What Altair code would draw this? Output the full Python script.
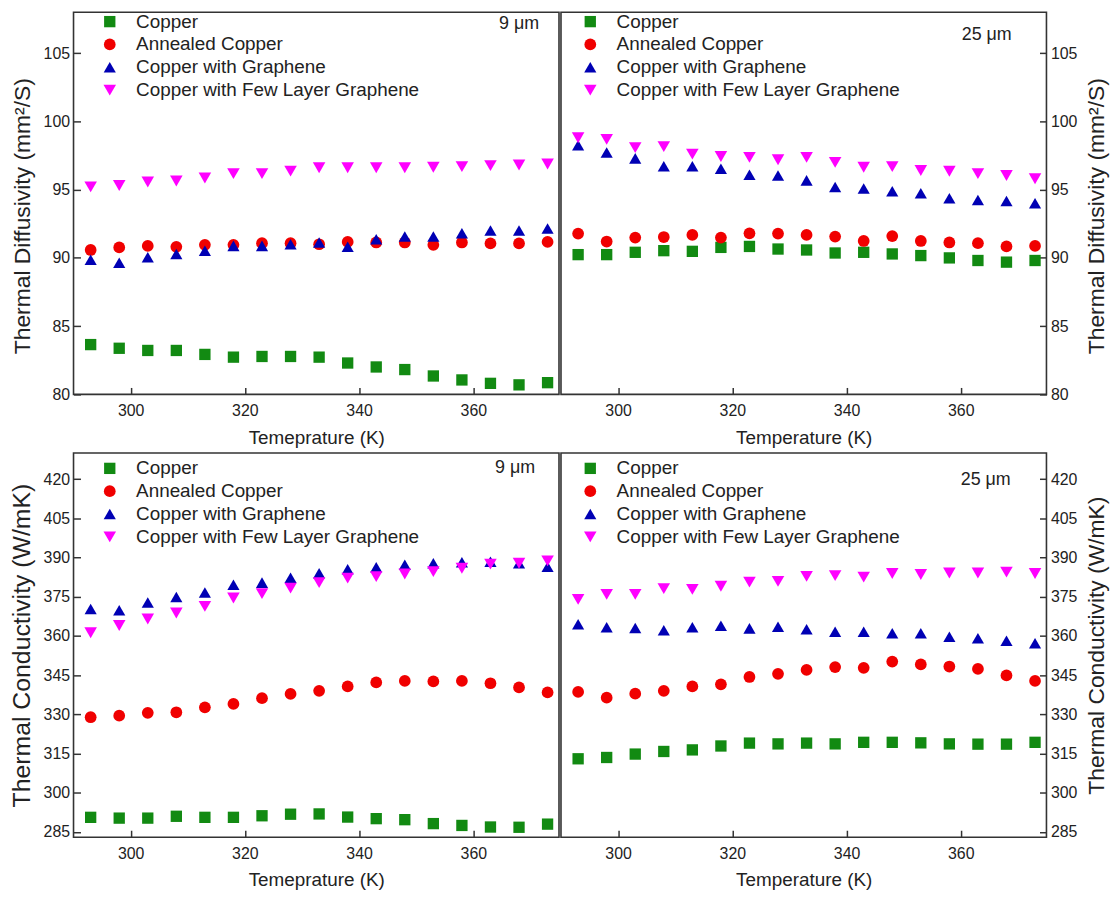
import altair as alt
import pandas as pd

FONT = "Liberation Sans"

temps = [293, 298, 303, 308, 313, 318, 323, 328, 333, 338, 343, 348, 353, 358, 363, 368, 373]
series_names = ["Copper", "Annealed Copper", "Copper with Graphene", "Copper with Few Layer Graphene"]

# Thermal diffusivity, 9 um
td9_copper = [83.65, 83.38, 83.22, 83.22, 82.93, 82.73, 82.78, 82.78, 82.73, 82.30, 82.01, 81.82, 81.35, 81.06, 80.81, 80.70, 80.86]
td9_annealed = [90.58, 90.77, 90.88, 90.81, 90.96, 90.96, 91.08, 91.08, 91.00, 91.17, 91.13, 91.13, 90.96, 91.13, 91.06, 91.06, 91.17]
td9_graphene = [89.86, 89.64, 90.05, 90.29, 90.53, 90.88, 90.88, 91.00, 91.13, 90.81, 91.37, 91.56, 91.56, 91.80, 92.01, 92.01, 92.15]
td9_flg = [95.20, 95.30, 95.56, 95.63, 95.85, 96.17, 96.17, 96.36, 96.60, 96.60, 96.60, 96.60, 96.64, 96.69, 96.76, 96.81, 96.88]

# Thermal diffusivity, 25 um
td25_copper = [90.24, 90.24, 90.41, 90.53, 90.48, 90.77, 90.84, 90.65, 90.58, 90.36, 90.41, 90.29, 90.17, 90.00, 89.81, 89.69, 89.81]
td25_annealed = [91.78, 91.20, 91.49, 91.53, 91.68, 91.49, 91.80, 91.78, 91.68, 91.56, 91.24, 91.60, 91.24, 91.13, 91.08, 90.84, 90.88]
td25_graphene = [98.25, 97.72, 97.29, 96.71, 96.71, 96.53, 96.09, 96.04, 95.68, 95.20, 95.09, 94.89, 94.73, 94.37, 94.24, 94.17, 94.00]
td25_flg = [98.80, 98.68, 98.08, 98.15, 97.60, 97.43, 97.36, 97.19, 97.36, 97.00, 96.64, 96.69, 96.40, 96.35, 96.17, 96.04, 95.80]

# Thermal conductivity, 9 um
tc9_copper = [290.6, 290.3, 290.3, 291.0, 290.6, 290.6, 291.2, 291.8, 291.9, 290.7, 290.1, 289.7, 288.2, 287.5, 286.9, 286.8, 288.0]
tc9_annealed = [328.9, 329.5, 330.6, 330.8, 332.7, 334.0, 336.2, 337.8, 339.0, 340.7, 342.2, 342.8, 342.6, 342.8, 341.9, 340.3, 338.4]
tc9_graphene = [370.3, 369.8, 372.8, 374.9, 376.6, 379.6, 380.4, 382.3, 384.0, 385.5, 386.3, 387.2, 387.8, 388.2, 388.4, 387.8, 386.5]
tc9_flg = [361.2, 364.0, 366.5, 368.8, 371.3, 374.5, 376.2, 378.3, 380.4, 382.1, 382.7, 383.7, 384.6, 385.9, 387.5, 387.8, 388.7]

# Thermal conductivity, 25 um
tc25_copper = [313.0, 313.5, 314.8, 315.8, 316.4, 317.9, 319.0, 318.7, 319.0, 318.7, 319.3, 319.3, 319.1, 318.7, 318.6, 318.6, 319.3]
tc25_annealed = [338.6, 336.4, 337.9, 339.0, 340.7, 341.5, 344.3, 345.5, 347.0, 348.1, 347.8, 350.2, 349.1, 348.3, 347.4, 344.9, 342.8]
tc25_graphene = [364.5, 363.3, 363.0, 362.2, 363.3, 363.9, 362.9, 363.5, 362.6, 361.6, 361.6, 361.0, 361.0, 359.7, 359.1, 358.2, 357.2]
tc25_flg = [374.0, 375.9, 375.9, 378.1, 377.8, 379.0, 380.6, 380.9, 382.8, 383.1, 382.5, 383.9, 383.5, 384.1, 384.1, 384.4, 383.9]

x_ticks = [300, 320, 340, 360]
td_ticks = [80, 85, 90, 95, 100, 105]
tc_ticks = [285, 300, 315, 330, 345, 360, 375, 390, 405, 420]

colors = ["#128a12", "#f00000", "#0000b4", "#ff00ff"]
shapes = ["square", "circle", "triangle-up", "triangle-down"]
TXT = "#222222"

PW = 489


def long_df(series):
    rows = []
    for name, vals in zip(series_names, series):
        for t, v in zip(temps, vals):
            rows.append({"T": t, "v": v, "sample": name})
    return pd.DataFrame(rows)


def panel(series, side, ydomain, yticks, xtitle, ytitle, ytitle_size,
          note, note_dx, note_dy, leg_x, leg_y, height, title_y=None):
    df = long_df(series)
    leg = alt.Legend(title=None, orient="none", legendX=leg_x, legendY=leg_y,
                     labelFontSize=19, labelFont=FONT, labelColor=TXT,
                     symbolSize=50, symbolOpacity=1, symbolStrokeWidth=0,
                     rowPadding=3, labelOffset=17, padding=0, labelLimit=0)
    yax_kwargs = dict(orient=side, values=yticks, offset=-7, tickSize=7,
                      domain=False, grid=False, labelPadding=4,
                      title=ytitle, titlePadding=9,
                      labelFontSize=16, titleFontSize=ytitle_size,
                      titleFontWeight="normal", labelColor=TXT, titleColor=TXT,
                      tickColor="#333333", tickWidth=1.5,
                      labelFont=FONT, titleFont=FONT)
    if side == "right":
        yax_kwargs["titleAngle"] = 270
        yax_kwargs["titleBaseline"] = "top"
    if title_y is not None:
        yax_kwargs["titleY"] = title_y
    points = alt.Chart(df).mark_point(filled=True, opacity=1).encode(
        x=alt.X("T:Q", scale=alt.Scale(domain=[290, 375], nice=False, zero=False),
                axis=alt.Axis(values=x_ticks, offset=-7, tickSize=7, domain=False,
                              grid=False, labelPadding=8, title=xtitle,
                              titlePadding=10, labelFontSize=16, titleFontSize=19,
                              titleFontWeight="normal", labelColor=TXT,
                              titleColor=TXT, tickColor="#333333", tickWidth=1.5,
                              labelFont=FONT, titleFont=FONT)),
        y=alt.Y("v:Q", scale=alt.Scale(domain=ydomain, nice=False, zero=False),
                axis=alt.Axis(**yax_kwargs)),
        color=alt.Color("sample:N", scale=alt.Scale(domain=series_names, range=colors),
                        legend=leg),
        shape=alt.Shape("sample:N", scale=alt.Scale(domain=series_names, range=shapes),
                        legend=leg),
        size=alt.Size("sample:N", scale=alt.Scale(domain=series_names,
                                                  range=[130, 160, 190, 190]),
                      legend=None),
    )
    note_layer = alt.Chart(pd.DataFrame({"t": [note]})).mark_text(
        align="right", baseline="middle", fontSize=18, font=FONT, color=TXT
    ).encode(text="t:N", x=alt.value(PW - note_dx), y=alt.value(note_dy))
    return alt.layer(points, note_layer).properties(width=PW, height=height)


TD_TITLE = "Thermal Diffusivity (mm²/S)"
TC_TITLE = "Thermal Conductivity (W/mK)"

p1 = panel([td9_copper, td9_annealed, td9_graphene, td9_flg], "left", [80, 108], td_ticks,
           "Temeprature (K)", TD_TITLE, 23, "9 μm", 20, 12, 27, 0, 385, title_y=205)
p2 = panel([td25_copper, td25_annealed, td25_graphene, td25_flg], "right", [80, 108], td_ticks,
           "Temperature (K)", TD_TITLE, 23, "25 μm", 35, 23, 20, 0, 385, title_y=205)
p3 = panel([tc9_copper, tc9_annealed, tc9_graphene, tc9_flg], "left", [283, 430], tc_ticks,
           "Temeprature (K)", TC_TITLE, 25, "9 μm", 24, 15, 27, 6, 387)
p4 = panel([tc25_copper, tc25_annealed, tc25_graphene, tc25_flg], "right", [283, 430], tc_ticks,
           "Temperature (K)", TC_TITLE, 23, "25 μm", 36, 27, 20, 6, 387)

top = alt.hconcat(p1, p2, spacing=0).resolve_scale(color="independent", shape="independent", size="independent")
bottom = alt.hconcat(p3, p4, spacing=0).resolve_scale(color="independent", shape="independent", size="independent")

chart = alt.vconcat(top, bottom, spacing=4).resolve_scale(
    color="independent", shape="independent", size="independent"
).configure(padding=0, background="white").configure_view(
    stroke="#333333", strokeWidth=1.6
)

chart.save("out.html", embed_options={"renderer": "svg", "actions": False})
